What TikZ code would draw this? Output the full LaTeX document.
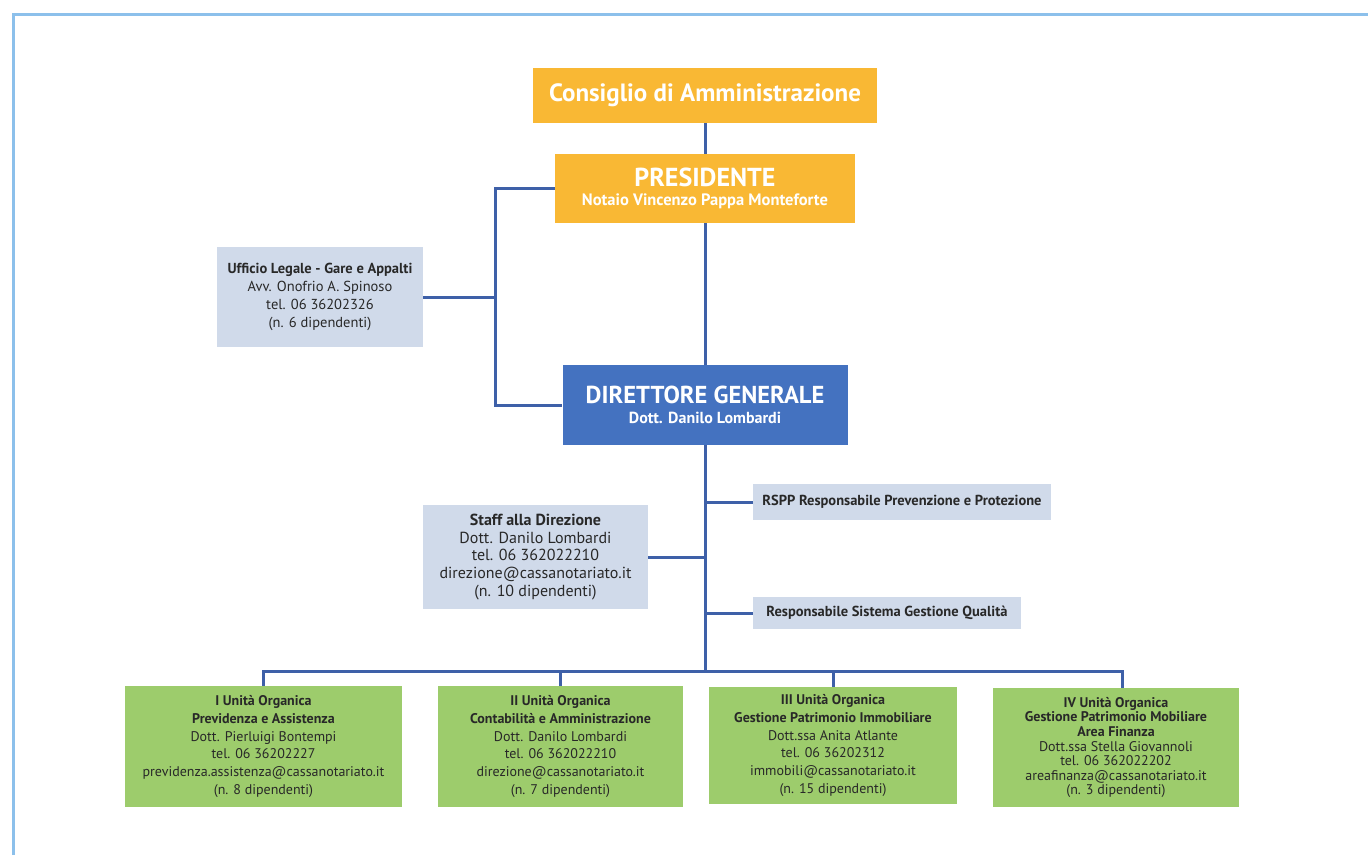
\documentclass[tikz,border=0pt]{standalone}
\usepackage{fontspec}
\setmainfont{PT Sans}
\usetikzlibrary{calc}

\definecolor{orangebox}{RGB}{249,184,52}
\definecolor{bluebox}{RGB}{68,114,192}
\definecolor{greybox}{RGB}{208,218,234}
\definecolor{greenbox}{RGB}{157,204,108}
\definecolor{linkblue}{RGB}{62,96,168}
\definecolor{framblue}{RGB}{140,192,235}
\definecolor{txt}{RGB}{40,40,40}

\begin{document}
\begin{tikzpicture}[x=1pt,y=-1pt]

\tikzstyle{box} = [rectangle, inner sep=0pt, align=center]
\tikzstyle{head} = [box, fill=orangebox, text=white]
\tikzstyle{dir} = [box, fill=bluebox, text=white]
\tikzstyle{staff} = [box, fill=greybox, text=txt, font=\fontsize{14.5}{17.8}\selectfont]
\tikzstyle{unit} = [box, fill=greenbox, text=txt, font=\fontsize{14}{17.8}\selectfont]
\tikzstyle{link} = [draw=linkblue, line width=3pt]
\tikzstyle{frame} = [draw=framblue, line width=3pt]

\useasboundingbox (0,0) rectangle (1368,855);
\draw[frame] (13,855) -- (13,14) -- (1368,14);

\node[head, minimum width=344, minimum height=55, font=\bfseries\fontsize{25}{28}\selectfont] (cda) at (705,95.5) {Consiglio di Amministrazione};

\node[head, minimum width=300, minimum height=69, font=\bfseries\fontsize{16.5}{19}\selectfont] (pres) at (705,188.5)
  {{\fontsize{26}{26}\selectfont PRESIDENTE}\\Notaio Vincenzo Pappa Monteforte};

\node[staff, minimum width=206, minimum height=100] (legale) at (320,297)
  {\textbf{Ufficio Legale - Gare e Appalti}\\Avv. Onofrio A. Spinoso\\tel. 06 36202326\\(n. 6 dipendenti)};

\node[dir, minimum width=285, minimum height=80, font=\bfseries\fontsize{16}{20}\selectfont] (dg) at (705,405)
  {{\fontsize{24.5}{25}\selectfont DIRETTORE GENERALE}\\Dott. Danilo Lombardi};

\node[staff, minimum width=298, minimum height=36, font=\bfseries\fontsize{14.5}{16}\selectfont] (rspp) at (902,502)
  {RSPP Responsabile Prevenzione e Protezione};

\node[staff, minimum width=225, minimum height=104, font=\fontsize{16}{17.8}\selectfont] (staff) at (535.5,557)
  {\textbf{Staff alla Direzione}\\Dott. Danilo Lombardi\\tel. 06 362022210\\direzione@cassanotariato.it\\(n. 10 dipendenti)};

\node[staff, minimum width=268, minimum height=32, font=\bfseries\fontsize{14.5}{16}\selectfont] (qualita) at (887,613)
  {Responsabile Sistema Gestione Qualità};

\node[unit, minimum width=277, minimum height=121] (uo1) at (263.5,746.5)
  {\textbf{I Unità Organica}\\\textbf{Previdenza e Assistenza}\\Dott. Pierluigi Bontempi\\tel. 06 36202227\\previdenza.assistenza@cassanotariato.it\\(n. 8 dipendenti)};
\node[unit, minimum width=245, minimum height=121] (uo2) at (560.5,746.5)
  {\textbf{II Unità Organica}\\\textbf{Contabilità e Amministrazione}\\Dott. Danilo Lombardi\\tel. 06 362022210\\direzione@cassanotariato.it\\(n. 7 dipendenti)};
\node[unit, minimum width=248, minimum height=117] (uo3) at (833,745.5)
  {\textbf{III Unità Organica}\\\textbf{Gestione Patrimonio Immobiliare}\\Dott.ssa Anita Atlante\\tel. 06 36202312\\immobili@cassanotariato.it\\(n. 15 dipendenti)};
\node[unit, minimum width=246, minimum height=119, font=\fontsize{14}{14.6}\selectfont] (uo4) at (1116,747.5)
  {\textbf{IV Unità Organica}\\\textbf{Gestione Patrimonio Mobiliare}\\\textbf{Area Finanza}\\Dott.ssa Stella Giovannoli\\tel. 06 362022202\\areafinanza@cassanotariato.it\\(n. 3 dipendenti)};

% connections
\coordinate (lspine) at (495,297);
\coordinate (busL) at (263.5,671);
\coordinate (busR) at (1122,671);

\draw[link] (cda.south) -- (pres.north);
\draw[link] (pres.south) -- (dg.north);
\draw[link] (pres.west) -| (lspine) |- (dg.west);
\draw[link] (legale.east) -- (lspine);
\draw[link] (dg.south) -- (dg.south |- busL);
\draw[link] (rspp.west) -- (rspp.west -| dg.south);
\draw[link] (qualita.west) -- (qualita.west -| dg.south);
\draw[link] (staff.east) -- (staff.east -| dg.south);
\draw[link] (uo1.north) -- (busL) -- (busR) -- (busR |- uo4.north);
\draw[link] (uo2.north) -- (uo2.north |- busL);
\draw[link] (uo3.north) -- (uo3.north |- busL);

\end{tikzpicture}
\end{document}
